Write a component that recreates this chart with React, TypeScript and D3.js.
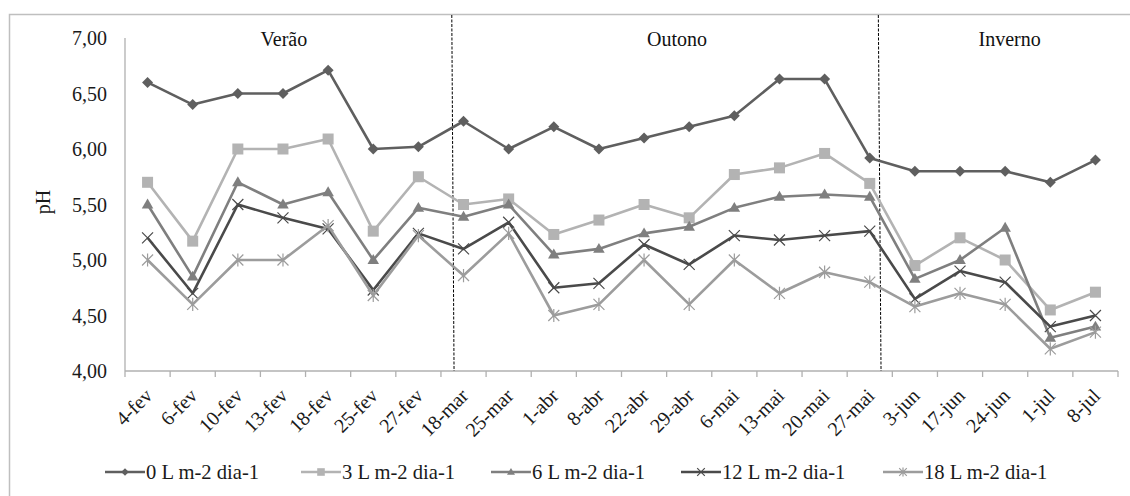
import React from "react";
import * as d3 from "d3";

// Sampling dates (day-month, Portuguese)
const dates = [
  "4-fev", "6-fev", "10-fev", "13-fev", "18-fev", "25-fev", "27-fev",
  "18-mar", "25-mar", "1-abr", "8-abr", "22-abr", "29-abr",
  "6-mai", "13-mai", "20-mai", "27-mai",
  "3-jun", "17-jun", "24-jun", "1-jul", "8-jul",
];

// pH per irrigation rate
const ph0 = [6.60, 6.40, 6.50, 6.50, 6.71, 6.00, 6.02, 6.25, 6.00, 6.20, 6.00, 6.10, 6.20, 6.30, 6.63, 6.63, 5.92, 5.80, 5.80, 5.80, 5.70, 5.90];
const ph3 = [5.70, 5.17, 6.00, 6.00, 6.09, 5.26, 5.75, 5.50, 5.55, 5.23, 5.36, 5.50, 5.38, 5.77, 5.83, 5.96, 5.69, 4.95, 5.20, 5.00, 4.55, 4.71];
const ph6 = [5.50, 4.85, 5.70, 5.50, 5.61, 5.00, 5.47, 5.39, 5.50, 5.05, 5.10, 5.24, 5.30, 5.47, 5.57, 5.59, 5.57, 4.83, 5.00, 5.29, 4.30, 4.40];
const ph12 = [5.20, 4.70, 5.50, 5.38, 5.28, 4.73, 5.24, 5.10, 5.34, 4.75, 4.79, 5.14, 4.96, 5.22, 5.18, 5.22, 5.26, 4.65, 4.90, 4.80, 4.40, 4.50];
const ph18 = [5.00, 4.60, 5.00, 5.00, 5.31, 4.68, 5.22, 4.86, 5.24, 4.50, 4.60, 5.00, 4.60, 5.00, 4.70, 4.89, 4.80, 4.58, 4.70, 4.60, 4.20, 4.35];

const seriesNames = ["0 L m-2 dia-1", "3 L m-2 dia-1", "6 L m-2 dia-1", "12 L m-2 dia-1", "18 L m-2 dia-1"];
const yTicks = [4.0, 4.5, 5.0, 5.5, 6.0, 6.5, 7.0];
const seasons = ["Verão", "Outono", "Inverno"];

type Marker = "diamond" | "square" | "triangle" | "cross" | "star";

const seriesStyle: { color: string; marker: Marker }[] = [
  { color: "#5f5f5f", marker: "diamond" },
  { color: "#b3b3b3", marker: "square" },
  { color: "#7f7f7f", marker: "triangle" },
  { color: "#4a4a4a", marker: "cross" },
  { color: "#9c9c9c", marker: "star" },
];

const FONT = "\"Liberation Serif\", Tinos, \"DejaVu Serif\", serif";
const textStyle: React.CSSProperties = { fontFamily: FONT, fontSize: 20 };
const legendTextStyle: React.CSSProperties = { fontFamily: FONT, fontSize: 20.6 };

function MarkerShape({ kind, x, y, s, color }: { kind: Marker; x: number; y: number; s: number; color: string }) {
  if (kind === "diamond") {
    return <path d={`M${x},${y - s}L${x + s},${y}L${x},${y + s}L${x - s},${y}Z`} fill={color} />;
  }
  if (kind === "square") {
    return <rect x={x - s} y={y - s} width={2 * s} height={2 * s} fill={color} />;
  }
  if (kind === "triangle") {
    const h = s * 1.8;
    return <path d={`M${x},${y - h * 0.6}L${x + s * 1.05},${y + h * 0.4}L${x - s * 1.05},${y + h * 0.4}Z`} fill={color} />;
  }
  if (kind === "cross") {
    return (
      <path d={`M${x - s},${y - s}L${x + s},${y + s}M${x - s},${y + s}L${x + s},${y - s}`} stroke={color} strokeWidth={1.2} fill="none" />
    );
  }
  return (
    <path
      d={`M${x - s},${y - s}L${x + s},${y + s}M${x - s},${y + s}L${x + s},${y - s}M${x},${y - s * 1.2}L${x},${y + s * 1.2}`}
      stroke={color}
      strokeWidth={1.2}
      fill="none"
    />
  );
}

export default function App() {
  const W = 1130;
  const H = 496;
  const left = 125;
  const right = 1118;
  const top = 38;
  const bottom = 371;

  const x = d3.scaleBand<string>().domain(dates).range([left, right]).padding(0);
  const y = d3.scaleLinear().domain([4, 7]).range([bottom, top]);
  const bw = x.bandwidth();
  const cx = (d: string) => (x(d) as number) + bw / 2;

  const allSeries = [ph0, ph3, ph6, ph12, ph18];
  const line = d3
    .line<number>()
    .x((_, i) => cx(dates[i]))
    .y((v) => y(v));

  const fmt = (v: number) => d3.format(".2f")(v).replace(".", ",");

  // season dividers sit inside the first band of the next season
  const dividers = [
    { x1: (x("18-mar") as number) + bw * 0.24, x2: (x("18-mar") as number) + bw * 0.29 },
    { x1: (x("27-mai") as number) + bw * 0.69, x2: (x("27-mai") as number) + bw * 0.75 },
  ];
  const seasonX = [left + bw * 3.52, left + bw * 12.23, left + bw * 19.6];

  const legendItems = [105, 301, 491, 681, 883];

  return (
    <svg width={W} height={H} style={{ display: "block", position: "absolute", left: 0, top: 0 }}>
      <rect x={0} y={0} width={W} height={H} fill="#ffffff" />
      {/* chart frame */}
      <path d={`M9.5,${H + 2}V14.5H${W + 2}`} stroke="#bfbfbf" strokeWidth={1.5} fill="none" />

      {/* y axis */}
      <line x1={left} x2={left} y1={top} y2={bottom} stroke="#b0b0b0" strokeWidth={1.3} />
      {yTicks.map((t) => (
        <text key={t} x={107} y={y(t)} dy="0.35em" textAnchor="end" style={textStyle} fill="#1a1a1a">
          {fmt(t)}
        </text>
      ))}
      <text transform={`translate(43,202) rotate(-90)`} textAnchor="middle" dy="0.35em" style={textStyle} fill="#1a1a1a">
        pH
      </text>

      {/* x axis */}
      <line x1={left} x2={right} y1={bottom} y2={bottom} stroke="#b0b0b0" strokeWidth={1.3} />
      {d3.range(dates.length + 1).map((i) => {
        const tx = left + i * bw;
        return <line key={i} x1={tx} x2={tx} y1={bottom} y2={bottom + 6} stroke="#b0b0b0" strokeWidth={1.3} />;
      })}
      {dates.map((d) => (
        <text
          key={d}
          transform={`translate(${cx(d) + 1},${bottom + 21}) rotate(-45)`}
          textAnchor="end"
          dy="0.35em"
          style={textStyle}
          fill="#1a1a1a"
        >
          {d}
        </text>
      ))}

      {/* season dividers */}
      {dividers.map((dv, i) => (
        <line key={i} x1={dv.x1} x2={dv.x2} y1={15} y2={bottom} stroke="#000" strokeWidth={1} strokeDasharray="3,1.5" />
      ))}
      {seasons.map((s, i) => (
        <text key={s} x={seasonX[i]} y={39} dy="0.35em" textAnchor="middle" style={textStyle} fill="#111">
          {s}
        </text>
      ))}

      {/* series */}
      {allSeries.map((vals, si) => (
        <g key={si}>
          <path d={line(vals) || ""} fill="none" stroke={seriesStyle[si].color} strokeWidth={2.6} strokeLinejoin="round" />
          {vals.map((v, i) => (
            <MarkerShape key={i} kind={seriesStyle[si].marker} x={cx(dates[i])} y={y(v)} s={5.5} color={seriesStyle[si].color} />
          ))}
        </g>
      ))}

      {/* legend */}
      {seriesNames.map((name, i) => {
        const lx = legendItems[i];
        const ly = 472;
        return (
          <g key={name}>
            <line x1={lx} x2={lx + 40} y1={ly} y2={ly} stroke={seriesStyle[i].color} strokeWidth={2.6} />
            <MarkerShape kind={seriesStyle[i].marker} x={lx + 20} y={ly} s={3.8} color={seriesStyle[i].color} />
            <text x={lx + 41} y={ly} dy="0.35em" style={legendTextStyle} fill="#1a1a1a">
              {name}
            </text>
          </g>
        );
      })}
    </svg>
  );
}
